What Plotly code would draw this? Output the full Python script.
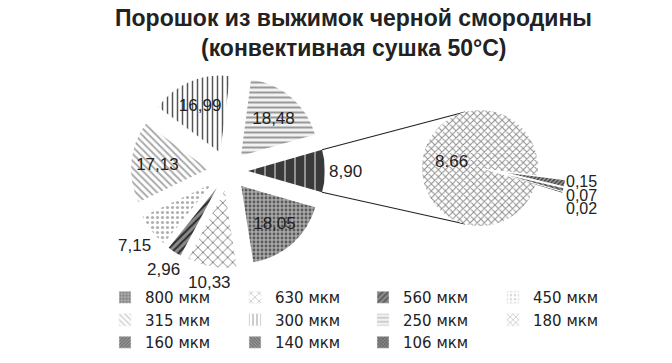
import math
import plotly.graph_objects as go

# ---------------- data ----------------
main_labels = ["800 мкм", "630 мкм", "560 мкм", "450 мкм", "315 мкм", "300 мкм", "250 мкм", "Другие"]
main_values = [18.05, 10.33, 2.96, 7.15, 17.13, 16.99, 18.48, 8.90]
main_text = ["18,05", "10,33", "2,96", "7,15", "17,13", "16,99", "18,48", "8,90"]
main_inside = [True, False, False, False, True, True, True, False]

sub_labels = ["180 мкм", "160 мкм", "140 мкм", "106 мкм"]
sub_values = [8.66, 0.15, 0.07, 0.02]
sub_text = ["8.66", "0,15", "0,07", "0,02"]

legend_labels = ["800 мкм", "630 мкм", "560 мкм", "450 мкм", "315 мкм", "300 мкм",
                 "250 мкм", "180 мкм", "160 мкм", "140 мкм", "106 мкм"]

title_lines = ["Порошок из выжимок черной смородины", "(конвективная сушка 50°С)"]

# ---------------- styles ----------------
W, H = 672, 363
FONT = "Liberation Sans"
TXT = "#222222"
LBL = 17

styles = {
    "800 мкм": dict(shape=".", fg="#5a5a5a", bg="#a8a8a8", size=4, sol=0.4),
    "630 мкм": dict(shape="x", fg="#808080", bg="#ffffff", size=7, sol=0.25),
    "560 мкм": dict(shape="/", fg="#2a2a2a", bg="#8a8a8a", size=5, sol=0.4),
    "450 мкм": dict(shape=".", fg="#b0b0b0", bg="#ffffff", size=5, sol=0.3),
    "315 мкм": dict(shape="\\", fg="#aaaaaa", bg="#ffffff", size=5, sol=0.4),
    "300 мкм": dict(shape="|", fg="#555555", bg="#ffffff", size=5, sol=0.3),
    "250 мкм": dict(shape="-", fg="#999999", bg="#f2f2f2", size=5, sol=0.4),
    "Другие": dict(shape="|", fg="#b0b0b0", bg="#3a3a3a", size=10, sol=0.15),
    "180 мкм": dict(shape="x", fg="#8c8c8c", bg="#ffffff", size=5, sol=0.35),
    "160 мкм": dict(shape="/", fg="#333333", bg="#999999", size=3, sol=0.4),
    "140 мкм": dict(shape="\\", fg="#333333", bg="#999999", size=3, sol=0.4),
    "106 мкм": dict(shape="x", fg="#222222", bg="#888888", size=3, sol=0.4),
}


def pat(lbl):
    s = styles[lbl]
    return dict(shape=s["shape"], fgcolor=s["fg"], bgcolor=s["bg"], size=s["size"], solidity=s["sol"])


def pat_list(lbls):
    return dict(shape=[styles[l]["shape"] for l in lbls],
                fgcolor=[styles[l]["fg"] for l in lbls],
                bgcolor=[styles[l]["bg"] for l in lbls],
                size=[styles[l]["size"] for l in lbls],
                solidity=[styles[l]["sol"] for l in lbls])


# geometry (pixels)
c1 = (228, 171)
r1 = 77
main_pull = 0.26
c2 = (480, 168)
r2 = 58
small_pull = 0.48
sub_pull = [0] + [small_pull] * (len(sub_values) - 1)


def dom(c, r, maxpull):
    half = r * (1 + maxpull)
    return dict(x=[(c[0] - half) / W, (c[0] + half) / W],
                y=[1 - (c[1] + half) / H, 1 - (c[1] - half) / H])


total = sum(main_values)
other_span = 360 * main_values[-1] / total
main_rotation = 90 + other_span / 2
small_dir = 102
sub_small_span = 360 * sum(sub_values[1:]) / sum(sub_values)
sub_rotation = small_dir + sub_small_span / 2

fig = go.Figure()

fig.add_trace(go.Pie(
    labels=main_labels, values=main_values, text=main_text,
    textinfo="text", sort=False, direction="clockwise", rotation=main_rotation,
    pull=[main_pull] * len(main_values),
    textposition=["inside" if v else "none" for v in main_inside],
    insidetextorientation="horizontal",
    marker=dict(colors=[styles[l]["bg"] for l in main_labels], pattern=pat_list(main_labels),
                line=dict(color="#ffffff", width=0)),
    textfont=dict(family=FONT, size=LBL, color=TXT),
    domain=dom(c1, r1, main_pull), showlegend=False, hoverinfo="label+value",
))

fig.add_trace(go.Pie(
    labels=sub_labels, values=sub_values, text=sub_text,
    textinfo="text", sort=False, direction="clockwise", rotation=sub_rotation,
    pull=sub_pull,
    textposition=["inside"] + ["none"] * (len(sub_values) - 1),
    insidetextorientation="horizontal",
    marker=dict(colors=[styles[l]["bg"] for l in sub_labels], pattern=pat_list(sub_labels),
                line=dict(color="#ffffff", width=0)),
    textfont=dict(family=FONT, size=LBL, color=TXT),
    domain=dom(c2, r2, max(sub_pull)), showlegend=False, hoverinfo="label+value",
))

# outside labels of the main pie, placed along each slice's mid angle
acc = main_rotation
for val, txt, inside in zip(main_values, main_text, main_inside):
    span = 360 * val / total
    midang = acc + span / 2
    acc += span
    if inside:
        continue
    a = math.radians(midang)
    sx, sy = math.sin(a), -math.cos(a)
    nd = sum(ch.isdigit() for ch in txt)
    hw = LBL * (0.556 * nd + 0.278 * (len(txt) - nd)) / 2
    hh = 9
    d = r1 * (1 + main_pull) + 4 + abs(sx) * hw + abs(sy) * hh
    fig.add_annotation(x=(c1[0] + d * sx) / W, y=1 - (c1[1] + d * sy) / H,
                       xref="paper", yref="paper", xanchor="center", yanchor="middle",
                       text=txt, showarrow=False, borderpad=0,
                       font=dict(family=FONT, size=LBL, color=TXT))

# labels of the tiny exploded slices, stacked next to their tip
tip_a = math.radians(small_dir)
tip_x = c2[0] + r2 * (1 + small_pull) * math.sin(tip_a)
tip_y = c2[1] - r2 * (1 + small_pull) * math.cos(tip_a)
for i, t in enumerate(sub_text[1:]):
    fig.add_annotation(x=(tip_x + 1) / W, y=1 - (tip_y - 4 + 13.5 * i) / H,
                       xref="paper", yref="paper", xanchor="left", yanchor="middle",
                       text=t, showarrow=False, borderpad=0,
                       font=dict(family=FONT, size=16, color=TXT))

# legend entries: 4 column legends, 3 rows
col_icon_x = [125, 255, 383, 513]
legend_top = 281
for i, lbl in enumerate(legend_labels):
    col = i % 4
    fig.add_trace(go.Bar(x=[None], y=[None], name=lbl,
                         legend="legend" if col == 0 else f"legend{col + 1}",
                         marker=dict(color=styles[lbl]["bg"], pattern=pat(lbl)),
                         showlegend=True, hoverinfo="skip"))

leg_common = dict(orientation="v", xanchor="left", yanchor="top", bgcolor="rgba(0,0,0,0)",
                  font=dict(family="DejaVu Sans", size=15, color=TXT), itemwidth=30,
                  traceorder="normal", borderwidth=0)
legends = {}
for col, ix in enumerate(col_icon_x):
    key = "legend" if col == 0 else f"legend{col + 1}"
    legends[key] = dict(leg_common, x=(ix - 20) / W, y=1 - legend_top / H)

# connector lines between the "other" slice and the secondary pie
pull_px = main_pull * r1
mid = math.radians(90)
ox = c1[0] + pull_px * math.sin(mid)
oy = c1[1] - pull_px * math.cos(mid)
for a_main, a_sub in [(90 - other_span / 2, -15), (90 + other_span / 2, 195)]:
    am = math.radians(a_main)
    x0 = ox + r1 * math.sin(am)
    y0 = oy - r1 * math.cos(am)
    asb = math.radians(a_sub)
    x1 = c2[0] + r2 * math.sin(asb)
    y1 = c2[1] - r2 * math.cos(asb)
    fig.add_shape(type="line", xref="paper", yref="paper",
                  x0=x0 / W, y0=1 - y0 / H, x1=x1 / W, y1=1 - y1 / H,
                  line=dict(color="#222222", width=1.2), layer="below")

# title
for i, line in enumerate(title_lines):
    fig.add_annotation(x=353 / W, y=1 - (18 + 30 * i) / H, xref="paper", yref="paper",
                       xanchor="center", yanchor="middle", text="<b>" + line + "</b>",
                       showarrow=False, font=dict(family=FONT, size=23, color=TXT))

fig.update_layout(
    width=W, height=H,
    margin=dict(l=0, r=0, t=0, b=0, autoexpand=False),
    paper_bgcolor="white", plot_bgcolor="white",
    xaxis=dict(visible=False), yaxis=dict(visible=False),
    **legends,
)

fig.write_html("out.html", config={"displayModeBar": False},
               post_script="document.body.style.margin='0px';")
